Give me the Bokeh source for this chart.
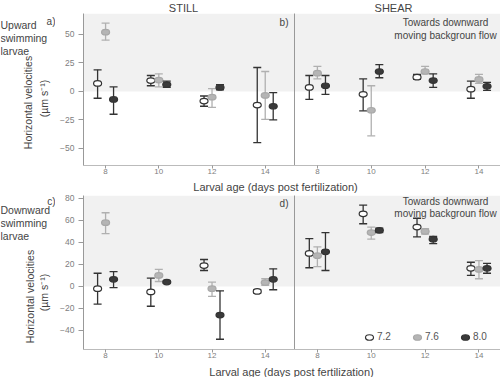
import math
from bokeh.plotting import figure
from bokeh.models import Range1d, FixedTicker, BoxAnnotation, Label, Legend, LegendItem
from bokeh.layouts import column, row
from bokeh.embed import file_html
from bokeh.resources import INLINE

ages = [8, 10, 12, 14]
ph_levels = ["7.2", "7.6", "8.0"]

# Panel a: STILL, upward swimming larvae (mean, lower, upper)
a_72_mean = [7, 9.5, -8.5, -12]
a_72_low = [-6, 5, -13, -45]
a_72_high = [19, 14, -4, 21]
a_76_mean = [52, 10, -5, -3.5]
a_76_low = [45, 4, -14, -24.5]
a_76_high = [60, 15.5, 2.5, 17.5]
a_80_mean = [-7, 6, 3.5, -13]
a_80_low = [-20, 3.5, 1.5, -25]
a_80_high = [4, 9, 6, -1]

# Panel b: SHEAR, upward swimming larvae
b_72_mean = [3.5, -2.5, 12.5, 2]
b_72_low = [-7, -17, 10.5, -6]
b_72_high = [14, 11, 15, 9]
b_76_mean = [16, -16.5, 17.5, 10.5]
b_76_low = [11, -39, 15.5, 7]
b_76_high = [22, 5, 22, 15]
b_80_mean = [5, 17.5, 9.5, 4.5]
b_80_low = [-2.5, 12, 3.5, 1]
b_80_high = [14, 23.5, 15.5, 8]

# Panel c: STILL, downward swimming larvae
c_72_mean = [-2, -5, 19, -4.5]
c_72_low = [-16, -18, 14.5, -6]
c_72_high = [12, 7.5, 24.5, -3]
c_76_mean = [58, 10, -2, 3.5]
c_76_low = [48, 4.5, -9, 1]
c_76_high = [67, 15.5, 4, 7]
c_80_mean = [6.5, 4, -26, 6.5]
c_80_low = [-1, 3, -48, -3]
c_80_high = [13.5, 5, -4, 16]

# Panel d: SHEAR, downward swimming larvae
d_72_mean = [30, 66, 54, 16.5]
d_72_low = [17, 57, 45, 10]
d_72_high = [43.5, 74, 62, 22]
d_76_mean = [28, 49, 50, 15.5]
d_76_low = [18, 43, 47.5, 7]
d_76_high = [36, 54, 52.5, 23.5]
d_80_mean = [31.5, 51, 43, 16.5]
d_80_low = [14.5, 49, 39, 12]
d_80_high = [49, 53, 45.5, 21]

top_yticks = [-50, -25, 0, 25, 50]
bottom_yticks = [-40, -20, 0, 20, 40, 60, 80]

FONT = "Liberation Sans"
TXT = "#444444"
OFFSET = {"7.2": -0.3, "7.6": 0.0, "8.0": 0.3}
FILL = {"7.2": "white", "7.6": "#b5b5b5", "8.0": "#3a3a3a"}
EDGE = {"7.2": "#333333", "7.6": "#a8a8a8", "8.0": "#333333"}
BAR = {"7.2": "#333333", "7.6": "#b0b0b0", "8.0": "#333333"}

BB = 15  # bottom border (x axis)


def make_panel(width, height, xr, yr, yticks, left, top, series):
    p = figure(width=width, height=height, x_range=Range1d(*xr), y_range=Range1d(*yr),
               output_backend="svg", toolbar_location=None,
               min_border_left=left, min_border_right=0,
               min_border_top=top, min_border_bottom=BB,
               outline_line_color=None, background_fill_color="white",
               border_fill_color="white")
    p.grid.visible = False
    p.add_layout(BoxAnnotation(bottom=0, fill_color="#f1f1f1", fill_alpha=1,
                               line_color=None, level="underlay"))
    ax = p.xaxis[0]
    ax.ticker = FixedTicker(ticks=ages)
    ax.major_label_text_font = FONT
    ax.major_label_text_font_size = "8px"
    ax.major_label_text_color = "#808080"
    ax.major_tick_out = 3
    ax.major_tick_in = 0
    ax.major_tick_line_color = "#999999"
    ax.minor_tick_line_color = None
    ax.axis_line_color = "#bbbbbb"
    ax.major_label_standoff = 0
    ay = p.yaxis[0]
    ay.ticker = FixedTicker(ticks=yticks)
    ay.major_label_text_font = FONT
    ay.major_label_text_font_size = "8.5px"
    ay.major_label_text_color = "#808080"
    ay.major_tick_out = 5
    ay.major_tick_in = 0
    ay.major_tick_line_color = "#999999"
    ay.minor_tick_line_color = None
    ay.axis_line_color = "#999999"
    ay.major_label_standoff = 4
    rends = {}
    for ph in ph_levels:
        mean, low, high = series[ph]
        xs = [a + OFFSET[ph] for a in ages]
        p.segment(xs, low, xs, high, line_color=BAR[ph], line_width=1.3)
        p.scatter(xs, low, marker="dash", size=8, line_color=BAR[ph], line_width=1.3)
        p.scatter(xs, high, marker="dash", size=8, line_color=BAR[ph], line_width=1.3)
        rends[ph] = p.ellipse(xs, mean, width=8, height=5.5, width_units="screen",
                              height_units="screen", fill_color=FILL[ph],
                              line_color=EDGE[ph], line_width=1.2)
    return p, rends


def frame_txt(p, x, y_top, text, size="10px", align="center"):
    # position inside a panel's frame, in frame pixels from its top-left
    fh = p.height - (p.min_border_top or 0) - (p.min_border_bottom or 0)
    p.add_layout(Label(x=x, y=fh - y_top, x_units="screen", y_units="screen",
                       text=text, text_font=FONT, text_font_size=size,
                       text_align=align, text_baseline="middle", text_color=TXT))


def text_fig(width, height, items, bottom_off=0):
    # a bare figure used to hold margin texts; y_top is measured from its canvas top.
    # bottom_off: distance of its (row-aligned) frame bottom above its canvas bottom
    s = figure(width=width, height=height, x_range=Range1d(0, 1), y_range=Range1d(0, 1),
               output_backend="svg", toolbar_location=None,
               min_border=0, outline_line_color=None,
               background_fill_color="white", border_fill_color="white")
    s.xaxis.visible = False
    s.yaxis.visible = False
    s.grid.visible = False
    for (x, y_top, text, size, align, angle) in items:
        s.add_layout(Label(x=x, y=(height - bottom_off) - y_top,
                           x_units="screen", y_units="screen",
                           text=text, text_font=FONT, text_font_size=size,
                           text_align=align, text_baseline="middle",
                           text_color=TXT, angle=angle))
    return s


TW = 55            # left text column
LW, RW = 294 - TW, 206
H1, H2 = 167, 171

pa, _ = make_panel(LW, H1, (7.17, 15.1), (-65, 68.4), top_yticks, 83 - TW, 0,
                   {"7.2": (a_72_mean, a_72_low, a_72_high),
                    "7.6": (a_76_mean, a_76_low, a_76_high),
                    "8.0": (a_80_mean, a_80_low, a_80_high)})
pb, _ = make_panel(RW, H1, (7.15, 14.8), (-65, 68.4), [], 0, 0,
                   {"7.2": (b_72_mean, b_72_low, b_72_high),
                    "7.6": (b_76_mean, b_76_low, b_76_high),
                    "8.0": (b_80_mean, b_80_low, b_80_high)})
pc, _ = make_panel(LW, H2, (7.17, 15.1), (-57.3, 82.7), bottom_yticks, 83 - TW, 2,
                   {"7.2": (c_72_mean, c_72_low, c_72_high),
                    "7.6": (c_76_mean, c_76_low, c_76_high),
                    "8.0": (c_80_mean, c_80_low, c_80_high)})
pd_, rd = make_panel(RW, H2, (7.15, 14.8), (-57.3, 82.7), [], 0, 2,
                     {"7.2": (d_72_mean, d_72_low, d_72_high),
                      "7.6": (d_76_mean, d_76_low, d_76_high),
                      "8.0": (d_80_mean, d_80_low, d_80_high)})

for p in (pb, pd_):
    p.yaxis.major_tick_out = 0
    p.yaxis.major_label_standoff = 0

# in-frame texts
frame_txt(pa, 205, 9, "b)", align="right")
frame_txt(pb, 151, 9, "Towards downward")
frame_txt(pb, 151, 22, "moving backgroun flow")
frame_txt(pc, 205, 8, "d)", align="right")
frame_txt(pd_, 151, 6, "Towards downward")
frame_txt(pd_, 151, 18, "moving backgroun flow")

legend = Legend(items=[LegendItem(label=ph, renderers=[rd[ph]]) for ph in ph_levels],
                orientation="horizontal", location="bottom_right",
                background_fill_alpha=0, border_line_color=None,
                label_text_font=FONT, label_text_font_size="10px",
                label_text_color="#555555", glyph_width=12, glyph_height=10,
                spacing=14, label_standoff=2, padding=2, margin=7)
pd_.add_layout(legend)

VL = math.pi / 2
top_strip = text_fig(500, 13, [(183, 7, "STILL", "11px", "center", 0),
                               (393, 7, "SHEAR", "11px", "center", 0)])
left1 = text_fig(TW, H1, [(0, 11, "Upward", "10.5px", "left", 0),
                          (0, 24, "swimming", "10.5px", "left", 0),
                          (0, 37, "larvae", "10.5px", "left", 0),
                          (TW, 8, "a)", "10px", "right", 0),
                          (27, 89, "Horizontal velocities", "10.5px", "center", VL),
                          (43, 85, "(\u00b5m s\u207b\u00b9)", "10.5px", "center", VL)],
                 bottom_off=BB)
left2 = text_fig(TW, H2, [(0, 16, "Downward", "10.5px", "left", 0),
                          (0, 29, "swimming", "10.5px", "left", 0),
                          (0, 42, "larvae", "10.5px", "left", 0),
                          (TW, 8, "c)", "10px", "right", 0),
                          (29, 103, "Horizontal velocities", "10.5px", "center", VL),
                          (43, 99, "(\u00b5m s\u207b\u00b9)", "10.5px", "center", VL)],
                 bottom_off=BB)
s1 = text_fig(500, 13, [(275, 6, "Larval age (days post fertilization)", "11px", "center", 0)])
s2 = text_fig(500, 13, [(291, 7, "Larval age (days post fertilization)", "11px", "center", 0)])

layout = column(top_strip,
                row(left1, pa, pb, spacing=0),
                s1,
                row(left2, pc, pd_, spacing=0),
                s2, spacing=0)

with open("out.html", "w") as f:
    f.write(file_html(layout, INLINE))
